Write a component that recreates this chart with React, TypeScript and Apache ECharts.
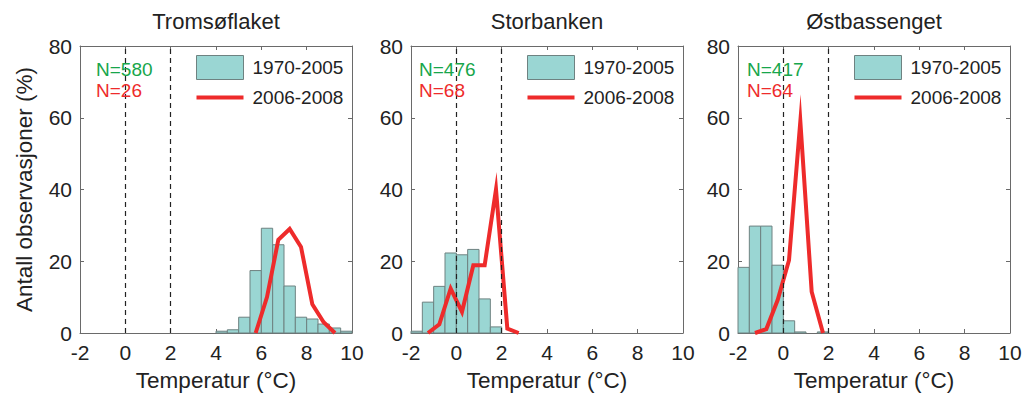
import React, { useEffect, useRef } from 'react';
import * as echarts from 'echarts';

// ---- Data ----
const panelTitles = ['Tromsøflaket', 'Storbanken', 'Østbassenget'];
const nHistText = ['N=580', 'N=476', 'N=417'];
const nLineText = ['N=26', 'N=68', 'N=64'];
const histName = '1970-2005';
const lineName = '2006-2008';
const binWidth = 0.5;

const tromsoBinStarts = [4.0, 4.5, 5.0, 5.5, 6.0, 6.5, 7.0, 7.5, 8.0, 8.5, 9.0, 9.5];
const tromsoHist = [0.5, 0.9, 4.4, 17.4, 29.2, 24.6, 13.1, 4.4, 3.9, 2.5, 1.4, 0.5];
const tromsoLineTemps = [5.75, 6.25, 6.75, 7.25, 7.75, 8.25, 8.75, 9.25];
const tromsoLine = [0, 10, 26, 29, 24, 8, 3, 0];

const storBinStarts = [-2.0, -1.5, -1.0, -0.5, 0.0, 0.5, 1.0, 1.5];
const storHist = [0.5, 8.6, 13, 22.3, 21.8, 23.3, 9.5, 1.7];
const storLineTemps = [-1.25, -0.75, -0.25, 0.25, 0.75, 1.25, 1.75, 2.25, 2.75];
const storLine = [0, 2.4, 12.4, 5.9, 18.9, 18.9, 40, 1.2, 0];

const ostBinStarts = [-2.0, -1.5, -1.0, -0.5, 0.0, 0.5, 1.0, 1.5];
const ostHist = [18.3, 29.8, 29.8, 18.9, 3.4, 0.3, 0, 0.3];
const ostLineTemps = [-1.25, -0.75, -0.25, 0.25, 0.75, 1.25, 1.75];
const ostLine = [0, 1.1, 9.2, 20.3, 59, 11.5, 0];

const xMin = -2;
const xMax = 10;
const xInterval = 2;
const yMin = 0;
const yMax = 80;
const yInterval = 20;
const refLines = [0, 2];

const panels = [
  { starts: tromsoBinStarts, hist: tromsoHist, temps: tromsoLineTemps, line: tromsoLine },
  { starts: storBinStarts, hist: storHist, temps: storLineTemps, line: storLine },
  { starts: ostBinStarts, hist: ostHist, temps: ostLineTemps, line: ostLine },
];

// ---- Style ----
const FONT = '"Liberation Sans", Arial, Helvetica, sans-serif';
const TEAL = '#9ad6d3';
const BAR_BORDER = '#6e8281';
const RED = '#ee2b2b';
const GREEN = '#17a64b';
const TEXT = '#222';
const AXIS = '#6a6a6a';
const gridLefts = [80, 411, 738];
const gridWidth = 272;
const gridTop = 46;
const gridHeight = 289;
const nTextX = [96, 419, 747];

export default function App() {
  const ref = useRef<HTMLDivElement>(null);

  useEffect(() => {
    document.body.style.margin = '0';
    if (!ref.current) return;
    const chart = echarts.init(ref.current, undefined, { renderer: 'svg' });

    const grid: any[] = [];
    const xAxis: any[] = [];
    const yAxis: any[] = [];
    const series: any[] = [];
    const title: any[] = [];
    const legend: any[] = [];
    const graphic: any[] = [];

    panels.forEach((p, i) => {
      grid.push({ left: gridLefts[i], top: gridTop, width: gridWidth, height: gridHeight });
      title.push({
        text: panelTitles[i],
        left: gridLefts[i] + gridWidth / 2,
        top: 10,
        textAlign: 'center',
        padding: 0,
        textStyle: { fontFamily: FONT, fontSize: 22, fontWeight: 'normal', color: TEXT },
      });
      const baseX = {
        type: 'value', gridIndex: i, min: xMin, max: xMax, interval: xInterval,
        splitLine: { show: false },
        axisLine: { show: true, onZero: false, lineStyle: { color: AXIS, width: 1 } },
        axisTick: { show: true, inside: true, length: 4, lineStyle: { color: AXIS } },
      };
      xAxis.push({
        ...baseX, position: 'bottom',
        axisLabel: { show: true, margin: 9, fontFamily: FONT, fontSize: 21, color: TEXT },
        name: 'Temperatur (°C)', nameLocation: 'middle', nameGap: 36,
        nameTextStyle: { fontFamily: FONT, fontSize: 22.5, color: TEXT },
      });
      xAxis.push({ ...baseX, position: 'top', axisLabel: { show: false } });
      const baseY = {
        type: 'value', gridIndex: i, min: yMin, max: yMax, interval: yInterval,
        splitLine: { show: false },
        axisLine: { show: true, onZero: false, lineStyle: { color: AXIS, width: 1 } },
        axisTick: { show: true, inside: true, length: 4, lineStyle: { color: AXIS } },
      };
      yAxis.push({
        ...baseY, position: 'left',
        axisLabel: { show: true, margin: 8, fontFamily: FONT, fontSize: 21, color: TEXT },
        ...(i === 0
          ? {
              name: 'Antall observasjoner (%)', nameLocation: 'middle', nameGap: 44,
              nameTextStyle: { fontFamily: FONT, fontSize: 22.5, color: TEXT },
            }
          : {}),
      });
      yAxis.push({ ...baseY, position: 'right', axisLabel: { show: false } });

      series.push({
        type: 'custom',
        name: histName,
        xAxisIndex: i * 2,
        yAxisIndex: i * 2,
        itemStyle: { color: TEAL, borderColor: BAR_BORDER, borderWidth: 1 },
        encode: { x: 0, y: 1 },
        data: p.starts.map((s, k) => [s, p.hist[k]]),
        renderItem: (params: any, api: any) => {
          const s = api.value(0);
          const v = api.value(1);
          if (!(v > 0)) return null;
          const p0 = api.coord([s, 0]);
          const p1 = api.coord([s + binWidth, v]);
          return {
            type: 'rect',
            shape: { x: p0[0], y: p1[1], width: p1[0] - p0[0], height: p0[1] - p1[1] },
            style: { fill: TEAL, stroke: BAR_BORDER, lineWidth: 1 },
          };
        },
        markLine: {
          silent: true,
          symbol: ['none', 'none'],
          label: { show: false },
          lineStyle: { type: [5, 4], color: '#222', width: 1.2 },
          data: refLines.map((x) => ({ xAxis: x })),
        },
        z: 2,
      });
      series.push({
        type: 'line',
        name: lineName,
        xAxisIndex: i * 2,
        yAxisIndex: i * 2,
        symbol: 'none',
        itemStyle: { color: RED },
        lineStyle: { color: RED, width: 4, join: 'miter', miterLimit: 30 },
        data: p.temps.map((t, k) => [t, p.line[k]]),
        z: 4,
      });

      legend.push({
        left: gridLefts[i] + 116,
        top: 55,
        padding: 0,
        orient: 'vertical',
        itemWidth: 47,
        itemHeight: 24,
        itemGap: 8,
        selectedMode: false,
        textStyle: { fontFamily: FONT, fontSize: 19, color: TEXT, padding: [0, 0, 6, 4] },
        data: [
          { name: histName, icon: 'rect', itemStyle: { color: TEAL, borderColor: BAR_BORDER, borderWidth: 1 } },
          { name: lineName, icon: 'path://M0 0H47V4H0Z', itemStyle: { color: RED, borderWidth: 0 } },
        ],
      });

      graphic.push({
        type: 'text', x: nTextX[i], y: 69, z: 10,
        style: { text: nHistText[i], fontFamily: FONT, fontSize: 19, fill: GREEN, verticalAlign: 'middle' },
      });
      graphic.push({
        type: 'text', x: nTextX[i], y: 90, z: 10,
        style: { text: nLineText[i], fontFamily: FONT, fontSize: 19, fill: RED, verticalAlign: 'middle' },
      });
    });

    chart.setOption({
      animation: false,
      backgroundColor: '#ffffff',
      textStyle: { fontFamily: FONT },
      title,
      legend,
      grid,
      xAxis,
      yAxis,
      series,
      graphic,
    });

    return () => chart.dispose();
  }, []);

  return <div ref={ref} style={{ width: 1025, height: 397 }} />;
}
